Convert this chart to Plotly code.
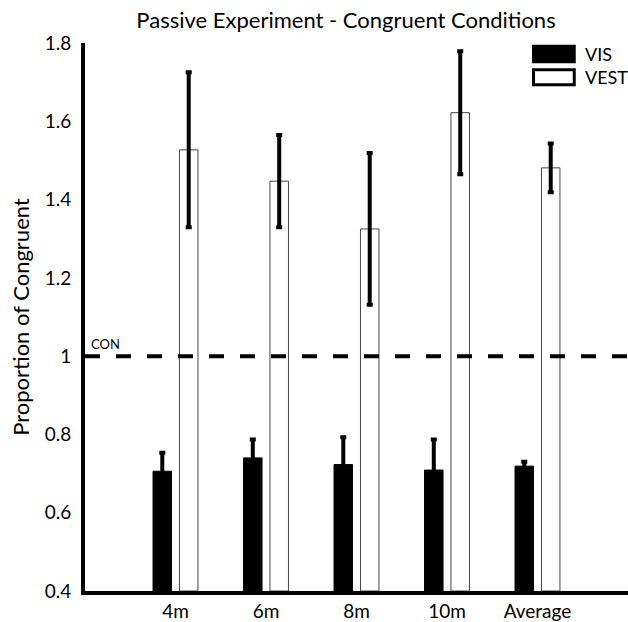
import plotly.graph_objects as go

categories = ["4m", "6m", "8m", "10m", "Average"]
vis_values = [0.706, 0.740, 0.723, 0.709, 0.719]
vis_errors = [0.047, 0.047, 0.070, 0.078, 0.011]
vest_values = [1.527, 1.447, 1.325, 1.622, 1.481]
vest_errors = [0.198, 0.118, 0.194, 0.157, 0.062]
y_ticks = [0.4, 0.6, 0.8, 1.0, 1.2, 1.4, 1.6, 1.8]
y_tick_labels = ["0.4", "0.6", "0.8", "1", "1.2", "1.4", "1.6", "1.8"]
con_level = 1.0

FONT = "Lato"

fig = go.Figure()
fig.add_trace(go.Bar(
    name="VIS", x=categories, y=[v - 0.4 for v in vis_values], base=0.4,
    marker=dict(color="black", line=dict(color="black", width=1)),
    error_y=dict(type="data", array=vis_errors, color="black", thickness=4, width=3),
    showlegend=False,
))
fig.add_trace(go.Bar(
    name="VEST", x=categories, y=[v - 0.4 for v in vest_values], base=0.4,
    marker=dict(color="white", line=dict(color="#444444", width=1)),
    error_y=dict(type="data", array=vest_errors, color="black", thickness=4, width=3),
    showlegend=False,
))

fig.add_shape(type="line", xref="paper", x0=0, x1=1, yref="y", y0=con_level, y1=con_level,
              line=dict(color="black", width=4, dash="15px,16px"), layer="above")
fig.add_annotation(text="CON", xref="paper", x=0.007, yref="y", y=con_level, yshift=12,
                   xanchor="left", yanchor="middle", showarrow=False,
                   font=dict(size=13, color="black", family=FONT))

# legend swatches
fig.add_shape(type="rect", xref="paper", yref="paper", x0=0.826, x1=0.901, y0=0.966, y1=0.994,
              fillcolor="black", line=dict(color="black", width=3))
fig.add_shape(type="rect", xref="paper", yref="paper", x0=0.826, x1=0.901, y0=0.924, y1=0.951,
              fillcolor="white", line=dict(color="black", width=3))
fig.add_annotation(text="VIS", xref="paper", yref="paper", x=0.917, y=0.980, xanchor="left",
                   yanchor="middle", showarrow=False, font=dict(size=18, color="black", family=FONT))
fig.add_annotation(text="VEST", xref="paper", yref="paper", x=0.917, y=0.938, xanchor="left",
                   yanchor="middle", showarrow=False, font=dict(size=18, color="black", family=FONT))

fig.update_layout(
    width=628, height=622,
    margin=dict(l=85, r=0, t=43, b=31),
    paper_bgcolor="white", plot_bgcolor="white",
    barmode="group", bargap=0.416, bargroupgap=0.30,
    font=dict(family=FONT, color="black", size=19),
    title=dict(text="Passive Experiment - Congruent Conditions", x=0.551, xanchor="center",
               y=0.968, yanchor="middle", font=dict(size=22, family=FONT, color="black")),
    showlegend=False,
)
fig.update_xaxes(range=[-1, 5], showline=True, linecolor="black", linewidth=4,
                 showgrid=False, zeroline=False, ticks="", tickfont=dict(size=19))
fig.update_yaxes(range=[0.4, 1.8], showline=True, linecolor="black", linewidth=4,
                 showgrid=False, zeroline=False, tickvals=y_ticks, ticktext=y_tick_labels,
                 ticks="outside", ticklen=6, tickcolor="white", tickfont=dict(size=19),
                 title=dict(text="Proportion of Congruent", font=dict(size=22), standoff=10))

fig.write_html("out.html", config={"displayModeBar": False},
               post_script="document.body.style.margin='0';document.body.style.overflow='hidden';")
